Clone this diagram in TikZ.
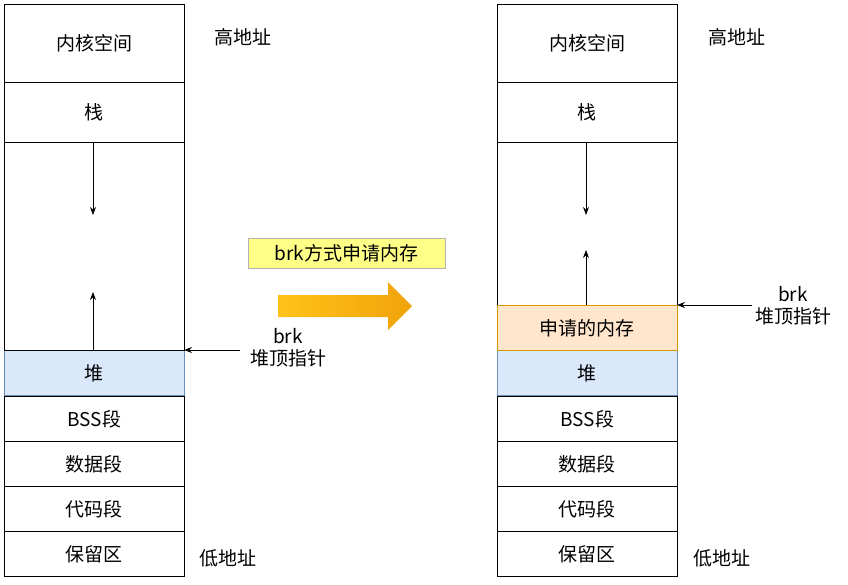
\documentclass[tikz,border=0pt]{standalone}
\usepackage{fontspec}
\setmainfont{Noto Sans CJK SC}
\usetikzlibrary{arrows.meta}
\definecolor{blu}{HTML}{DAE8FC}\definecolor{bluB}{HTML}{6C8EBF}
\definecolor{org}{HTML}{FFE6CC}\definecolor{orgB}{HTML}{D79B00}
\definecolor{yel}{HTML}{FFFF88}
\definecolor{ga}{HTML}{FFC21A}\definecolor{gb}{HTML}{F0A30A}
\begin{document}
\begin{tikzpicture}[x=1pt,y=-1pt,
 cell/.style={draw=black,line width=0.8pt,minimum width=180pt,anchor=north west,inner sep=0pt,font=\fontsize{19}{22}\selectfont},
 lab/.style={font=\fontsize{19}{22}\selectfont,align=center},
 arr/.style={-{Stealth[length=8pt,width=6pt]},line width=0.9pt}]
\useasboundingbox (0,0) rectangle (848,584);
\foreach \X/\p in {4/L,497/R}{
 \node[cell,minimum height=78pt] (\p k) at (\X,4) {内核空间};
 \node[cell,minimum height=60pt] (\p s) at (\X,82) {栈};
 \node[cell,minimum height=45pt,fill=blu,draw=bluB] (\p h) at (\X,350) {堆};
 \node[cell,minimum height=45pt] (\p b) at (\X,396) {BSS段};
 \node[cell,minimum height=45pt] (\p d) at (\X,441) {数据段};
 \node[cell,minimum height=45pt] (\p c) at (\X,486) {代码段};
 \node[cell,minimum height=45pt] (\p r) at (\X,531) {保留区};
}
\node[cell,minimum height=208pt] (Le) at (4,142) {};
\node[cell,minimum height=163pt] (Re) at (497,142) {};
\node[cell,minimum height=45pt,fill=org,draw=orgB] (Rm) at (497,305) {申请的内存};
\coordinate (a1) at (93,215); \draw[arr] (Ls.south -| a1) -- (a1);
\coordinate (a2) at (93,292); \draw[arr] (Lh.north -| a2) -- (a2);
\coordinate (a3) at (586,215); \draw[arr] (Rs.south -| a3) -- (a3);
\coordinate (a4) at (586,250); \draw[arr] (Rm.north -| a4) -- (a4);
\node[lab] (hl) at (243,37) {高地址};
\node[lab] (ll) at (228,558) {低地址};
\node[lab] (hr) at (737,37) {高地址};
\node[lab] (lr) at (722,558) {低地址};
\node[lab] (pl) at (288,348) {brk\\堆顶指针};
\node[lab] (pr) at (793,306) {brk\\堆顶指针};
\coordinate (bl) at (240,350); \draw[arr] (bl) -- (184,350);
\coordinate (br) at (752,305); \draw[arr] (br) -- (677,305);
\node[draw=black!30,fill=yel,minimum width=197pt,minimum height=30pt,inner sep=0pt,font=\fontsize{19}{22}\selectfont] (t) at (346.5,253) {brk方式申请内存};
\shade[left color=ga,right color=gb] (278,295) -- (388,295) -- (388,282) -- (412,306) -- (388,330) -- (388,317) -- (278,317) -- cycle;
\end{tikzpicture}
\end{document}
